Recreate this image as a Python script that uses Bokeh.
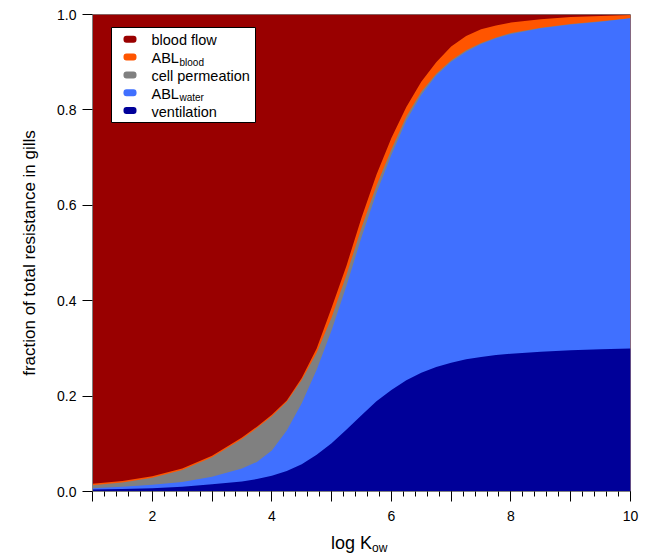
from bokeh.plotting import figure
from bokeh.models import (ColumnDataSource, Range1d, SingleIntervalTicker,
                          NumeralTickFormatter, BoxAnnotation, Label, Div)
from bokeh.layouts import column
from bokeh.transform import stack
from bokeh.embed import file_html
from bokeh.resources import INLINE

# ---------------- data (fractions of total resistance) ----------------
log_kow = [1, 1.5, 2, 2.5, 3, 3.5, 3.75, 4, 4.25, 4.5, 4.75, 5, 5.25, 5.5, 5.75,
           6, 6.25, 6.5, 6.75, 7, 7.25, 7.5, 7.75, 8, 8.5, 9, 9.5, 10]
ventilation = [0.004, 0.005, 0.007, 0.010, 0.015, 0.021, 0.026, 0.033, 0.043,
               0.057, 0.077, 0.101, 0.130, 0.160, 0.189, 0.213, 0.233, 0.249,
               0.261, 0.270, 0.277, 0.282, 0.286, 0.289, 0.293, 0.296, 0.298, 0.300]
abl_water = [0.003, 0.005, 0.007, 0.010, 0.016, 0.027, 0.036, 0.053, 0.085,
             0.128, 0.178, 0.237, 0.302, 0.373, 0.437, 0.493, 0.545, 0.583,
             0.611, 0.631, 0.645, 0.656, 0.664, 0.670, 0.678, 0.683, 0.687, 0.692]
cell_permeation = [0.006, 0.009, 0.015, 0.025, 0.041, 0.062, 0.071, 0.072,
                   0.060, 0.049, 0.036, 0.027, 0.023, 0.020, 0.015, 0.011,
                   0.008, 0.006, 0.004, 0.003, 0.003, 0.002, 0.002, 0.002,
                   0.001, 0.001, 0.001, 0.000]
abl_blood = [0.003, 0.003, 0.003, 0.003, 0.003, 0.003, 0.003, 0.003, 0.003,
             0.004, 0.009, 0.020, 0.019, 0.021, 0.023, 0.024, 0.020, 0.021,
             0.024, 0.029, 0.030, 0.029, 0.025, 0.022, 0.018, 0.015, 0.011, 0.007]
blood_flow = [0.984, 0.978, 0.968, 0.952, 0.925, 0.887, 0.864, 0.839, 0.809,
              0.762, 0.700, 0.615, 0.526, 0.426, 0.336, 0.259, 0.194, 0.141,
              0.100, 0.067, 0.045, 0.031, 0.023, 0.017, 0.010, 0.005, 0.003, 0.001]

layer_names = ["ventilation", "abl_water", "cell_permeation", "abl_blood", "blood_flow"]
layer_colors = ["#000099", "#4070FF", "#808080", "#FF5500", "#990000"]
x_tick_interval = 1
x_unlabelled_ticks = [1, 3, 5, 7, 9]
y_tick_interval = 0.2

source = ColumnDataSource(dict(x=log_kow, ventilation=ventilation, abl_water=abl_water,
                               cell_permeation=cell_permeation, abl_blood=abl_blood,
                               blood_flow=blood_flow))

FONT = "Liberation Sans"

# frame geometry (pixels) used for placing annotations
L, R, T, B = 92, 630, 14, 491
W, H_PLOT, H_TOTAL = 646, 528, 556
XMIN, XMAX, YMIN, YMAX = 1, 10, 0, 1


def dx(px):
    return XMIN + (px - L) * (XMAX - XMIN) / (R - L)


def dy(py):
    return YMIN + (B - py) * (YMAX - YMIN) / (B - T)


p = figure(width=W, height=H_PLOT, x_range=Range1d(XMIN, XMAX), y_range=Range1d(YMIN, YMAX),
           output_backend="svg", toolbar_location=None,
           min_border_left=L, min_border_right=W - R, min_border_top=T,
           min_border_bottom=H_PLOT - B)
p.xgrid.visible = False
p.ygrid.visible = False
p.background_fill_color = "white"
p.border_fill_color = "white"
p.outline_line_color = "#808080"
p.outline_line_width = 1

# stacked areas: draw cumulative areas from the top layer down to avoid seams
for i in reversed(range(len(layer_names))):
    p.varea(x="x", y1=0, y2=stack(*layer_names[: i + 1]), source=source,
            fill_color=layer_colors[i], fill_alpha=1.0)

# ---------------- axes ----------------
xa = p.xaxis[0]
xa.ticker = SingleIntervalTicker(interval=x_tick_interval, num_minor_ticks=5)
xa.major_label_overrides = {t: "" for t in x_unlabelled_ticks}
xa.major_tick_out = 10
xa.major_tick_in = 0
xa.minor_tick_out = 5
xa.minor_tick_in = 0
xa.major_label_standoff = 9
xa.major_label_text_font = FONT
xa.major_label_text_font_size = "14px"
xa.major_label_text_color = "black"
xa.axis_line_color = "#808080"
xa.major_tick_line_color = "black"
xa.minor_tick_line_color = "black"

ya = p.yaxis[0]
ya.ticker = SingleIntervalTicker(interval=y_tick_interval, num_minor_ticks=0)
ya.formatter = NumeralTickFormatter(format="0.0")
ya.major_tick_out = 10
ya.major_tick_in = 0
ya.minor_tick_line_color = None
ya.major_label_standoff = 6
ya.major_label_text_font = FONT
ya.major_label_text_font_size = "14px"
ya.major_label_text_color = "black"
ya.axis_line_color = "#808080"
ya.major_tick_line_color = "black"
ya.axis_label = "fraction of total resistance in gills"
ya.axis_label_text_font = FONT
ya.axis_label_text_font_size = "17px"
ya.axis_label_text_font_style = "normal"
ya.axis_label_text_color = "black"
ya.axis_label_standoff = 15

# ---------------- legend ----------------
p.add_layout(BoxAnnotation(left=dx(111), right=dx(255), top=dy(27), bottom=dy(122),
                           fill_color="white", fill_alpha=1.0, line_color="black",
                           line_alpha=1.0, line_width=1))
legend_rows = [
    ("blood flow", None, "#990000"),
    ("ABL", "blood", "#FF5500"),
    ("cell permeation", None, "#808080"),
    ("ABL", "water", "#4070FF"),
    ("ventilation", None, "#000099"),
]
row_centers = [38.7, 56.5, 74.5, 92.3, 110.0]
for (txt, sub, col), c in zip(legend_rows, row_centers):
    p.add_layout(BoxAnnotation(left=dx(123), right=dx(136), top=dy(c - 3.5),
                               bottom=dy(c + 3.5), fill_color=col, fill_alpha=1.0,
                               line_color=None, border_radius=3))
    p.add_layout(Label(x=dx(151), y=dy(c + 1), text=txt, text_font=FONT,
                       text_font_size="14.5px", text_align="left",
                       text_baseline="middle", text_color="black"))
    if sub:
        p.add_layout(Label(x=dx(179), y=dy(c + 5), text=sub, text_font=FONT,
                           text_font_size="10px", text_align="left",
                           text_baseline="middle", text_color="black"))

# x axis title with subscript (real HTML text below the plot)
xtitle = Div(
    text=('<div style="padding-left:331px;padding-top:6px;font-family:\'Liberation Sans\',Arial,sans-serif;'
          'font-size:18px;line-height:18px;color:black;white-space:nowrap">'
          'log K<span style="font-size:12px;line-height:12px;position:relative;top:3px">ow</span></div>'),
    width=W, height=H_TOTAL - H_PLOT, margin=0)

layout = column(p, xtitle, spacing=0)
open("out.html", "w").write(file_html(layout, INLINE))
